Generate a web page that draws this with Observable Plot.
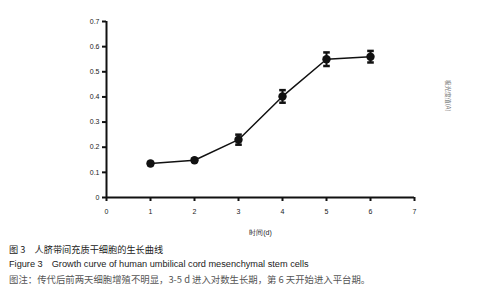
<!DOCTYPE html>
<html><head><meta charset="utf-8">
<script src="https://cdn.jsdelivr.net/npm/d3@7"></script>
<script src="https://cdn.jsdelivr.net/npm/@observablehq/plot@0.6"></script>
<style>
body{margin:0;background:#fff;}
#cap{font-family:"Noto Sans CJK SC","Liberation Sans",sans-serif;font-size:9.2px;line-height:15px;padding-left:9px;margin-top:2px;color:#222;}
#cap .note{color:#555;font-size:9.4px;}
</style></head><body>
<div id="chart"></div>
<div id="cap">
<div>图 3　人脐带间充质干细胞的生长曲线</div>
<div style="font-family:'Liberation Sans',sans-serif;">Figure 3　Growth curve of human umbilical cord mesenchymal stem cells</div>
<div class="note">图注：传代后前两天细胞增殖不明显，3-5 d 进入对数生长期，第 6 天开始进入平台期。</div>
</div>
<script>
const days = [1, 2, 3, 4, 5, 6];
const absorbance = [0.135, 0.148, 0.230, 0.402, 0.550, 0.560];
const errors = [0.006, 0.006, 0.020, 0.025, 0.027, 0.023];
const xTicks = [0, 1, 2, 3, 4, 5, 6, 7];
const yTicks = [0, 0.1, 0.2, 0.3, 0.4, 0.5, 0.6, 0.7];
const xLabel = "时间(d)";
const yLabel = "吸光度值(A)";

const data = days.map((d, i) => ({x: d, y: absorbance[i], e: errors[i]}));
const capHalf = 0.075;

const chart = Plot.plot({
  width: 477,
  height: 240,
  marginLeft: 106,
  marginRight: 63,
  marginTop: 21,
  marginBottom: 43,
  style: {fontFamily: "Liberation Sans, Arial, sans-serif", fontSize: "7px", color: "#222"},
  x: {domain: [0, 7]},
  y: {domain: [0, 0.7]},
  marks: [
    Plot.axisX({ticks: xTicks, tickSize: 4, tickPadding: 8, strokeWidth: 2, stroke: "#111",
      tickFormat: d3.format("d"), label: xLabel, labelAnchor: "center", labelArrow: "none", labelOffset: 37, fontSize: 7}),
    Plot.axisY({ticks: yTicks, tickSize: 4, tickPadding: 3, strokeWidth: 2, stroke: "#111",
      tickFormat: d => d === 0 ? "0" : d3.format(".1f")(d), label: null, fontSize: 7}),
    Plot.ruleY([0], {strokeWidth: 2, stroke: "#111"}),
    Plot.ruleX([0], {strokeWidth: 2, stroke: "#111"}),
    Plot.line(data, {x: "x", y: "y", stroke: "#111", strokeWidth: 1.5}),
    Plot.ruleX(data, {x: "x", y1: d => d.y - d.e, y2: d => d.y + d.e, stroke: "#111", strokeWidth: 2}),
    Plot.link(data, {x1: d => d.x - capHalf, x2: d => d.x + capHalf, y1: d => d.y + d.e, y2: d => d.y + d.e, stroke: "#111", strokeWidth: 2.5}),
    Plot.link(data, {x1: d => d.x - capHalf, x2: d => d.x + capHalf, y1: d => d.y - d.e, y2: d => d.y - d.e, stroke: "#111", strokeWidth: 2.5}),
    Plot.dot(data, {x: "x", y: "y", r: 4.2, fill: "#111"}),
    Plot.text([yLabel], {x: 7, y: 0.405, dx: 33, rotate: 90, fontSize: 6, fill: "#777",
      fontFamily: "Noto Sans CJK SC"})
  ]
});
document.getElementById("chart").append(chart);
</script>
</body></html>
